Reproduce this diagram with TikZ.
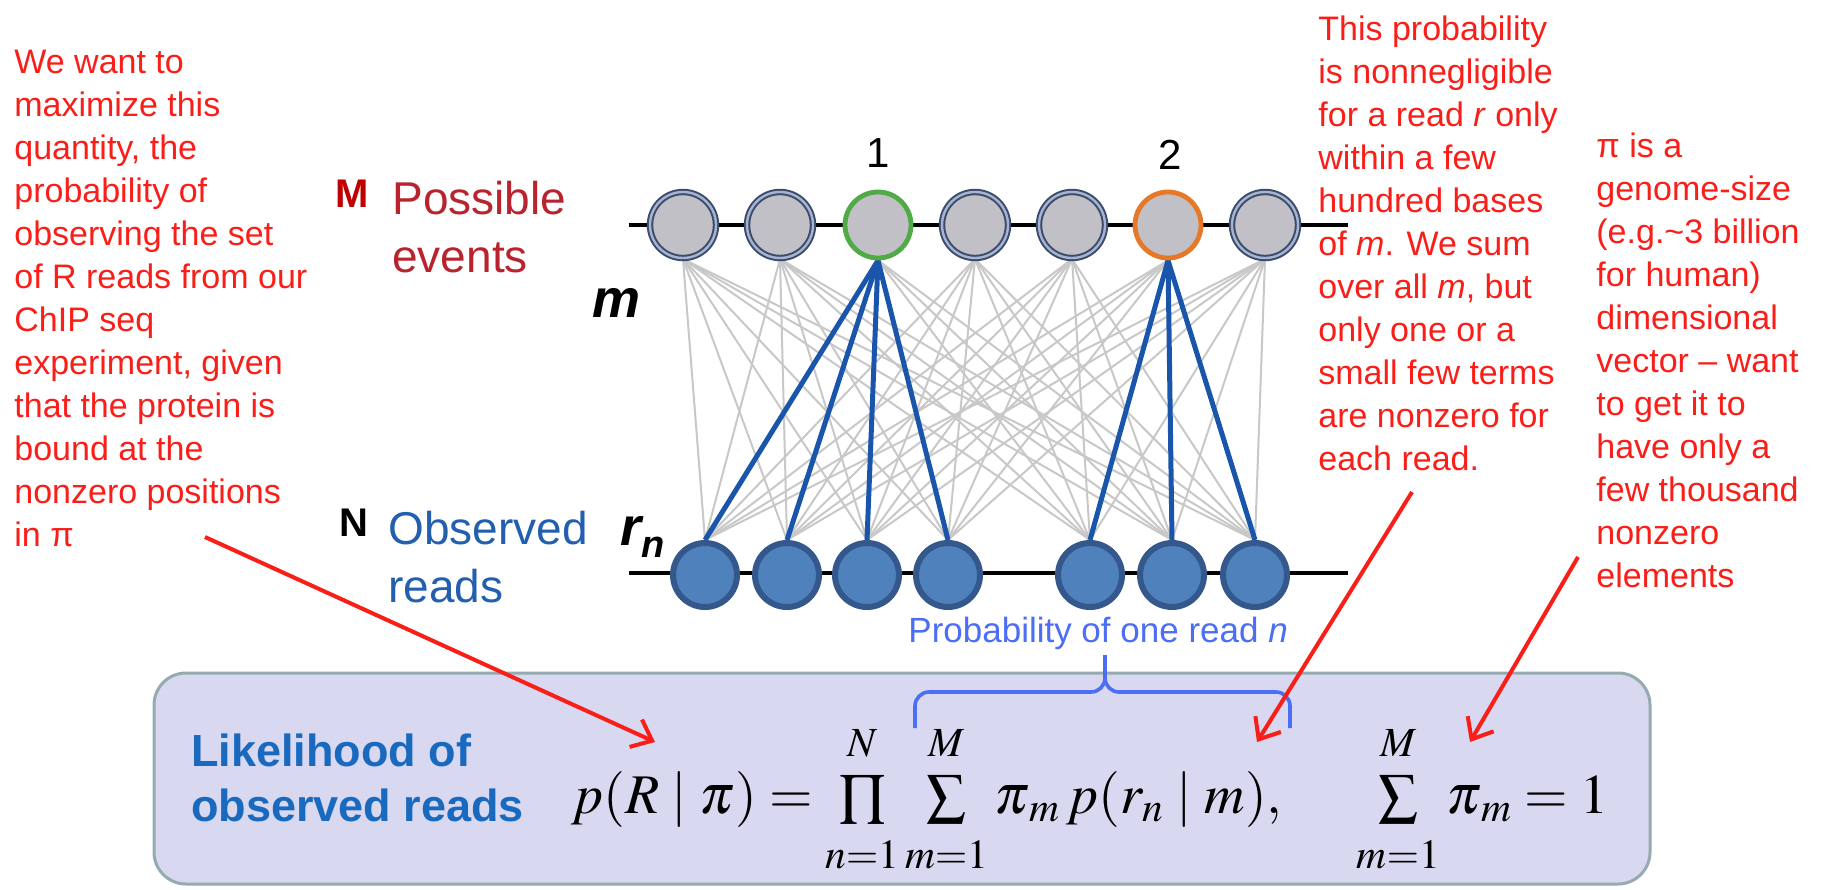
\documentclass[tikz,border=0pt]{standalone}
\usepackage{mathptmx}
\usepackage[no-math]{fontspec}
\setmainfont{Liberation Sans}
\usepackage{xcolor}
\usepackage{tikz}
\usetikzlibrary{arrows.meta,backgrounds}

\definecolor{notered}{RGB}{250,30,25}
\definecolor{eventred}{RGB}{185,35,45}
\definecolor{bigMred}{RGB}{192,0,0}
\definecolor{readblue}{RGB}{35,95,175}
\definecolor{likblue}{RGB}{25,105,190}
\definecolor{braceblue}{RGB}{75,110,245}
\definecolor{evfill}{RGB}{192,192,198}
\definecolor{evdark}{RGB}{60,75,105}
\definecolor{evlight}{RGB}{165,180,210}
\definecolor{ringgreen}{RGB}{80,170,70}
\definecolor{ringorange}{RGB}{230,120,40}
\definecolor{rdfill}{RGB}{79,129,189}
\definecolor{rdedge}{RGB}{52,88,140}
\definecolor{linkgray}{RGB}{200,200,200}
\definecolor{hitblue}{RGB}{25,85,170}
\definecolor{boxfill}{RGB}{216,216,240}
\definecolor{boxedge}{RGB}{150,170,175}

% limits pushed away from the big operators
\newcommand{\uplim}[1]{#1\rule[-6pt]{0pt}{6pt}}
\newcommand{\lowlim}[1]{\rule{0pt}{18pt}#1}

\begin{document}
\begin{tikzpicture}[x=0.5pt, y=-0.5pt,
  eventbase/.style={circle, minimum size=33pt, inner sep=0pt, fill=evfill},
  event/.style={eventbase, draw=evdark, line width=1pt, double=evlight, double distance=1.2pt},
  read/.style={circle, minimum size=32pt, inner sep=0pt, fill=rdfill, draw=rdedge, line width=3pt},
  rail/.style={black, line width=2pt},
  link/.style={linkgray, line width=1pt},
  hit/.style={hitblue, line width=2.5pt},
  note/.style={notered, font=\fontsize{17}{21.5}\selectfont, align=left, inner sep=0pt, anchor=north west},
  numlabel/.style={font=\fontsize{21}{24}\selectfont, inner sep=0pt},
  side/.style={font=\fontsize{23}{29}\selectfont, align=left, inner sep=0pt, anchor=north west},
  pointer/.style={notered, line width=2pt, -{Straight Barb[length=9pt, width=15pt]}},
  bracket/.style={braceblue, line width=1.8pt, rounded corners=7pt}]
\useasboundingbox (0,0) rectangle (1835,889);
% top row: possible events
\foreach \i/\x in {1/683,2/780,4/975,5/1072,7/1265}
  \node[event] (t\i) at (\x,225) {};
\node[eventbase, draw=ringgreen, line width=2.4pt] (t3) at (878,225) {};
\node[eventbase, draw=ringorange, line width=2.4pt] (t6) at (1168,225) {};
\node[numlabel] (one) at (878,153) {1};
\node[numlabel] (two) at (1170,155) {2};
% bottom row: observed reads
\foreach \j/\x in {1/705,2/787,3/867,4/948,5/1090,6/1172,7/1255}
  \node[read] (b\j) at (\x,575) {};
\coordinate (toprail) at (629,225); \coordinate (toprailend) at (1348,225);
\coordinate (botrail) at (629,573); \coordinate (botrailend) at (1348,573);
% links, behind the circles
\begin{scope}[on background layer]
\fill[white] (0,0) rectangle (1835,889);
\draw[rail] (toprail) -- (toprailend);
\draw[rail] (botrail) -- (botrailend);
\foreach \i in {1,...,7}
  \foreach \j in {1,...,7}
    \draw[link] (t\i.south) -- (b\j.north);
\foreach \j in {1,2,3,4} \draw[hit] (t3.south) -- (b\j.north);
\foreach \j in {5,6,7} \draw[hit] (t6.south) -- (b\j.north);
\end{scope}
% row labels
\node[font=\bfseries\fontsize{20}{24}\selectfont, text=bigMred] (bigM) at (352,194) {M};
\node[side, text=eventred] (events) at (392,181) {Possible\\events};
\node[font=\bfseries\fontsize{20}{24}\selectfont] (bigN) at (354,523) {N};
\node[side, text=readblue] (reads) at (388,511) {Observed\\reads};
\node[font=\bfseries\itshape\fontsize{27}{30}\selectfont, anchor=base, inner sep=0pt] (mlab) at (616,317) {m};
\node[font=\bfseries\itshape\fontsize{27}{30}\selectfont, anchor=base west, inner sep=0pt] (rlab) at (620,545)
  {r\raisebox{-6pt}{\fontsize{19}{20}\selectfont n}};
% notes
\node[note] (wantnote) at (14,50) {We want to\\maximize this\\quantity, the\\probability of\\observing the set\\of R reads from our\\ChIP seq\\experiment, given\\that the protein is\\bound at the\\nonzero positions\\in π};
\node[note] (probnote) at (1318,15) {This probability\\is nonnegligible\\for a read \textit{r} only\\within a few\\hundred bases\\of \textit{m}. We sum\\over all \textit{m}, but\\only one or a\\small few terms\\are nonzero for\\each read.};
\node[note] (pinote) at (1596,132) {π is a\\genome-size\\(e.g.\textasciitilde 3 billion\\for human)\\dimensional\\vector – want\\to get it to\\have only a\\few thousand\\nonzero\\elements};
% likelihood box
\draw[fill=boxfill, draw=boxedge, line width=1.5pt, rounded corners=16pt] (154,673) rectangle (1650,884);
\node[side, font=\bfseries\fontsize{22.5}{27.5}\selectfont, text=likblue] (liklabel) at (191,733) {Likelihood of\\observed reads};
\node[anchor=base west, inner sep=0pt, font=\fontsize{28}{32}\selectfont] (lik) at (571,813)
  {$p(R\;|\;\pi) = \prod\limits_{\lowlim{n=1}}^{\uplim{N}}\sum\limits_{\lowlim{m=1}}^{\uplim{M}}\pi_{\,m}\, p(r_n\;|\;m),\quad\; \sum\limits_{\lowlim{m=1}}^{\uplim{M}}\pi_{\,m} = 1$};
% probability of one read
\node[anchor=base west, inner sep=0pt, font=\fontsize{17.5}{20}\selectfont, text=braceblue] (oneread) at (908,642) {Probability of one read \textit{n}};
\coordinate (brL) at (915,728); \coordinate (brM) at (1105,692); \coordinate (brT) at (1105,655); \coordinate (brR) at (1290,728);
\draw[bracket] (brL) |- (brM) -- (brT);
\draw[bracket] (1105,668) -- (brM) -| (brR);
% pointers
\coordinate (wanttail) at (205,537); \coordinate (wanthead) at (655,742);
\coordinate (probtail) at (1412,492); \coordinate (probhead) at (1257,742);
\coordinate (pitail) at (1578,557); \coordinate (pihead) at (1470,742);
\draw[pointer] (wanttail) -- (wanthead);
\draw[pointer] (probtail) -- (probhead);
\draw[pointer] (pitail) -- (pihead);
\end{tikzpicture}
\end{document}
